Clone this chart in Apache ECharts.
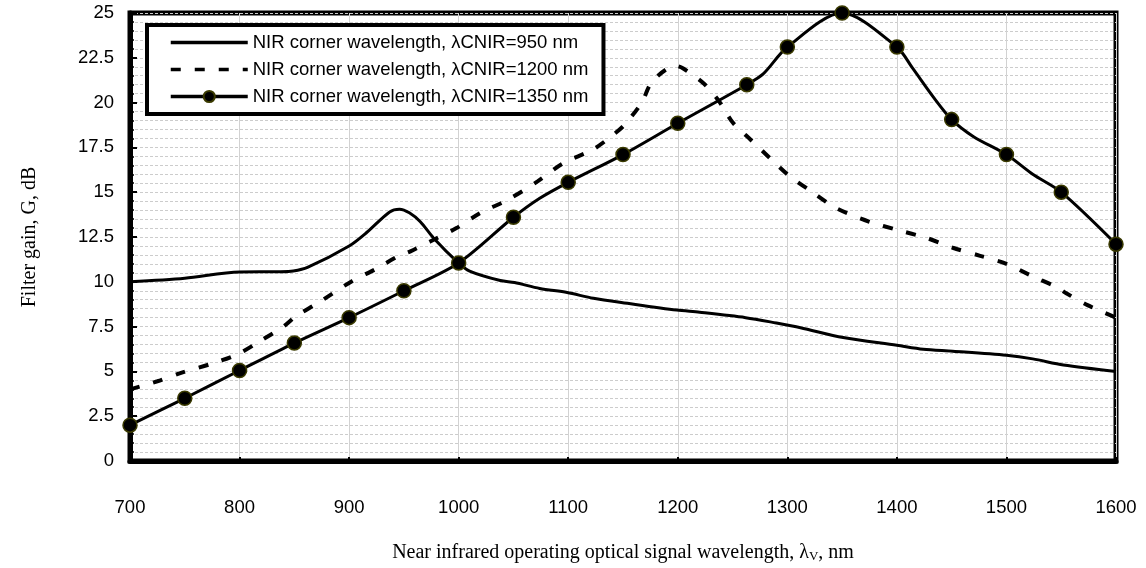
<!DOCTYPE html>
<html>
<head>
<meta charset="utf-8">
<script src="https://cdn.jsdelivr.net/npm/echarts@6/dist/echarts.min.js"></script>
<style>
  html, body { margin: 0; padding: 0; background: #ffffff; }
  #chart { width: 1146px; height: 568px; }
</style>
</head>
<body>
<div id="chart"></div>
<script>
// Filter gain vs. signal wavelength for three NIR corner wavelengths
const seriesNames = [
  'NIR corner wavelength, \u03bbCNIR=950 nm',
  'NIR corner wavelength, \u03bbCNIR=1200 nm',
  'NIR corner wavelength, \u03bbCNIR=1350 nm'
];

// [wavelength nm, gain dB]
const gain950 = [
  [700, 10.0], [750, 10.2], [800, 10.55], [837, 10.56], [849, 10.6], [862, 10.8],
  [900, 12.0], [916, 12.75], [937, 13.9], [946, 14.05], [955, 13.85], [965, 13.35],
  [977, 12.45], [999, 11.1], [1010, 10.6], [1038, 10.07], [1051, 9.96], [1074, 9.63],
  [1099, 9.4], [1123, 9.08], [1154, 8.8], [1199, 8.42], [1220, 8.3], [1262, 8.0],
  [1290, 7.7], [1312, 7.44], [1351, 6.89], [1400, 6.46], [1424, 6.24], [1451, 6.13],
  [1500, 5.9], [1524, 5.7], [1552, 5.36], [1600, 5.0]
];

const gain1200 = [
  [700, 4.0], [725, 4.45], [748, 4.95], [773, 5.4], [798, 5.95], [819, 6.7],
  [840, 7.5], [852, 8.1], [871, 8.8], [903, 10.05], [924, 10.7], [944, 11.4],
  [956, 11.7], [974, 12.25], [998, 13.0], [1020, 13.85], [1044, 14.55], [1072, 15.6],
  [1095, 16.6], [1123, 17.4], [1141, 18.2], [1152, 18.8], [1167, 20.0], [1177, 21.2],
  [1198, 22.05], [1205, 21.9], [1224, 21.05], [1238, 20.05], [1250, 18.9], [1267, 17.9],
  [1285, 16.85], [1302, 15.9], [1323, 15.0], [1345, 14.1], [1375, 13.35], [1400, 12.9],
  [1427, 12.45], [1451, 11.9], [1476, 11.45], [1500, 11.0], [1524, 10.3], [1546, 9.7],
  [1555, 9.35], [1574, 8.7], [1600, 8.0]
];

const gain1350 = [
  [700, 2.0], [750, 3.5], [800, 5.05], [850, 6.58], [900, 8.0], [950, 9.5],
  [1000, 11.05], [1050, 13.6], [1074, 14.66], [1100, 15.55], [1150, 17.1], [1200, 18.85],
  [1263, 21.0], [1278, 21.6], [1300, 23.1], [1350, 25.0], [1400, 23.1], [1414, 21.95],
  [1434, 20.25], [1450, 19.05], [1470, 18.1], [1500, 17.1], [1524, 16.0], [1550, 15.0],
  [1600, 12.1]
];
// wavelengths of the 1350 nm curve that carry a marker
const markers1350 = [700, 750, 800, 850, 900, 950, 1000, 1050, 1100, 1150, 1200,
  1263, 1300, 1350, 1400, 1450, 1500, 1550, 1600];

const xTicks = { min: 700, max: 1600, step: 100 };
const yTicks = { min: 0, max: 25, step: 2.5 };

const sans = 'Liberation Sans, Arial, sans-serif';
const serif = 'Liberation Serif, Times New Roman, serif';

const markerSet = new Set(markers1350);
const data1350 = gain1350.map(p => ({
  value: p,
  symbol: markerSet.has(p[0]) ? 'circle' : 'none'
}));

const chart = echarts.init(document.getElementById('chart'), null, { renderer: 'canvas' });

chart.setOption({
  animation: false,
  backgroundColor: '#ffffff',
  grid: {
    left: 130, right: 30, top: 13, bottom: 97,
    show: true,
    borderColor: '#000000',
    borderWidth: 5,
    backgroundColor: 'transparent'
  },
  legend: {
    orient: 'vertical',
    left: 147,
    top: 25,
    padding: [8, 15, 8, 22],
    itemWidth: 77,
    itemHeight: 14,
    itemGap: 8,
    backgroundColor: '#ffffff',
    borderColor: '#000000',
    borderWidth: 4,
    lineStyle: { width: 3.5 },
    textStyle: { fontFamily: sans, fontSize: 18.5, color: '#000000' },
    data: [
      { name: seriesNames[0], itemStyle: { opacity: 0 } },
      { name: seriesNames[1], itemStyle: { opacity: 0 } },
      { name: seriesNames[2] }
    ]
  },
  xAxis: {
    type: 'value',
    min: xTicks.min,
    max: xTicks.max,
    interval: xTicks.step,
    name: '{t|Near infrared operating optical signal wavelength, \u03bb}{s|V}{t|, nm}',
    nameLocation: 'middle',
    nameGap: 81,
    nameTextStyle: {
      rich: {
        t: { fontFamily: serif, fontSize: 20, color: '#000000' },
        s: { fontFamily: serif, fontSize: 13, color: '#000000', verticalAlign: 'bottom', padding: [8, 0, 0, 0] }
      }
    },
    axisLine: { show: true, lineStyle: { color: '#000000', width: 5 } },
    axisTick: { show: true, inside: true, length: 4, lineStyle: { color: '#000000', width: 2 } },
    axisLabel: {
      fontFamily: sans, fontSize: 18.5, color: '#000000', margin: 37,
      formatter: v => String(v)
    },
    splitLine: { show: true, lineStyle: { color: '#d2d2d2', width: 1 } }
  },
  yAxis: {
    type: 'value',
    min: yTicks.min,
    max: yTicks.max,
    interval: yTicks.step,
    name: 'Filter gain, G, dB',
    nameLocation: 'middle',
    nameGap: 90,
    nameRotate: 90,
    nameTextStyle: { fontFamily: serif, fontSize: 20, color: '#000000' },
    axisLine: { show: true, lineStyle: { color: '#000000', width: 5 } },
    axisTick: { show: true, inside: true, length: 7, lineStyle: { color: '#000000', width: 2 } },
    minorTick: { show: true, splitNumber: 5, length: 4, lineStyle: { color: '#000000', width: 1.5 } },
    axisLabel: { fontFamily: sans, fontSize: 18.5, color: '#000000', margin: 16 },
    splitLine: { show: true, lineStyle: { color: '#cccccc', width: 1, type: [3, 2] } },
    minorSplitLine: { show: true, lineStyle: { color: '#cccccc', width: 1, type: [3, 2] } }
  },
  series: [
    {
      name: seriesNames[0],
      type: 'line',
      data: gain950,
      smooth: 0.3,
      symbol: 'none',
      lineStyle: { color: '#000000', width: 3 },
      itemStyle: { color: '#000000' },
      z: 3
    },
    {
      name: seriesNames[1],
      type: 'line',
      data: gain1200,
      smooth: 0.3,
      symbol: 'none',
      lineStyle: { color: '#000000', width: 4, type: [10, 14] },
      itemStyle: { color: '#000000' },
      z: 3
    },
    {
      name: seriesNames[2],
      type: 'line',
      data: data1350,
      smooth: 0.3,
      symbol: 'circle',
      symbolSize: 14,
      showAllSymbol: true,
      clip: false,
      lineStyle: { color: '#000000', width: 3 },
      itemStyle: { color: '#000000', borderColor: '#3a3a00', borderWidth: 1.5 },
      z: 4
    }
  ]
});
</script>
</body>
</html>
